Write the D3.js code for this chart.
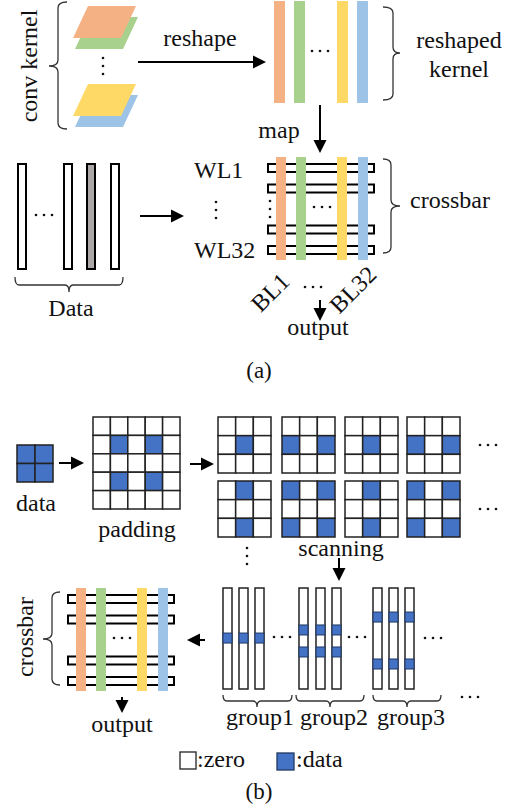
<!DOCTYPE html>
<html><head><meta charset="utf-8">
<script src="https://cdn.jsdelivr.net/npm/d3@7"></script>
<style>body{margin:0;background:#fff}svg{display:block}
text{font-family:"Liberation Serif","Tinos","Times New Roman","Nimbus Roman","DejaVu Serif",serif;}</style>
</head><body>
<script>
// ---------- data ----------
const kernelColors = ["#F4B183", "#A9D18E", "#FFD966", "#9DC3E6"];
const dataBlue = "#4472C4";
const dataGray = "#ABA7A7";
const dataColumnFilled = [0, 0, 1, 0];           // (a) data columns, 1 = gray
const crossbarWireRows = [0, 1, 3, 4];           // wire rows drawn (row 2 = dots)
const paddingCells = [[1,1],[1,3],[3,1],[3,3]];  // 5x5 padded map, [row,col]
const scanPatterns = [
  [[1,1]], [[1,0],[1,2]], [[1,1]], [[1,0],[1,2]],
  [[0,1],[2,1]], [[0,0],[0,2],[2,0],[2,2]], [[0,1],[2,1]], [[0,0],[0,2],[2,0],[2,2]]
];
const groupLabels = ["group1", "group2", "group3"];
const groupBlocks = [[0.446], [0.366, 0.584], [0.238, 0.703]]; // relative block positions in columns
const wlLabels = ["WL1", "WL32"];
const blLabels = ["BL1", "BL32"];

// ---------- setup ----------
const W = 513, H = 810;
const svg = d3.select("body").append("svg").attr("width", W).attr("height", H);
const FS = 24;

function txt(x, y, s, anchor = "middle", rot = 0, fs = FS) {
  const t = svg.append("text").style("font-size", fs + "px")
    .attr("fill", "#111").attr("text-anchor", anchor).text(s);
  if (rot) t.attr("transform", `translate(${x},${y}) rotate(${rot})`);
  else t.attr("x", x).attr("y", y);
  return t;
}
function arrow(x1, y1, x2, y2, L = 13, hw = 6.5) {
  const dx = x2 - x1, dy = y2 - y1, len = Math.hypot(dx, dy);
  const ux = dx / len, uy = dy / len;
  const bx = x2 - ux * L, by = y2 - uy * L;
  svg.append("line").attr("x1", x1).attr("y1", y1).attr("x2", bx + ux).attr("y2", by + uy)
    .attr("stroke", "#000").attr("stroke-width", 2);
  svg.append("path").attr("d",
    `M${x2},${y2} L${bx - uy * hw},${by + ux * hw} L${bx + uy * hw},${by - ux * hw} Z`)
    .attr("fill", "#000");
}
function vbrace(xl, y1, y2, ym, dir, h = 9, t = 9, r = 6) {
  const hx = xl - dir * h;
  const d = `M${hx},${y1} Q${xl},${y1} ${xl},${y1 + r} L${xl},${ym - r} Q${xl},${ym} ${xl + dir * t},${ym}`
    + ` Q${xl},${ym} ${xl},${ym + r} L${xl},${y2 - r} Q${xl},${y2} ${hx},${y2}`;
  svg.append("path").attr("d", d).attr("fill", "none").attr("stroke", "#333").attr("stroke-width", 1.3);
}
function hbrace(x1, x2, xm, yl, h = 7, t = 7, r = 4) {
  const d = `M${x1},${yl - h} Q${x1},${yl} ${x1 + r},${yl} L${xm - r},${yl} Q${xm},${yl} ${xm},${yl + t}`
    + ` Q${xm},${yl} ${xm + r},${yl} L${x2 - r},${yl} Q${x2},${yl} ${x2},${yl - h}`;
  svg.append("path").attr("d", d).attr("fill", "none").attr("stroke", "#333").attr("stroke-width", 1.3);
}
function hdots(cx, cy, sp = 8) {
  [-1, 0, 1].forEach(k => svg.append("circle").attr("cx", cx + k * sp).attr("cy", cy).attr("r", 1.3).attr("fill", "#111"));
}
function vdots(cx, cy, sp = 8) {
  [-1, 0, 1].forEach(k => svg.append("circle").attr("cx", cx).attr("cy", cy + k * sp).attr("r", 1.3).attr("fill", "#111"));
}

// ---------- (a) conv kernel layers ----------
function layer(ox, oy, color) {
  svg.append("path").attr("d", `M${88 + ox},${6 + oy} L${136 + ox},${6 + oy} L${121 + ox},${38 + oy} L${73 + ox},${38 + oy} Z`)
    .attr("fill", color);
}
layer(2, 11, kernelColors[1]);
layer(0, 0, kernelColors[0]);
layer(2, 89, kernelColors[3]);
layer(0, 78, kernelColors[2]);
vdots(103, 66);
vbrace(58, 2, 129, 66, -1);
txt(37, 66, "conv kernel", "middle", -90);

arrow(138, 62, 266, 62);
txt(200, 46, "reshape");

// reshaped kernel bars
const topBarX = d3.scaleOrdinal().domain(d3.range(4)).range([274, 294, 337, 357]);
kernelColors.forEach((c, i) => svg.append("rect").attr("x", topBarX(i)).attr("y", 1).attr("width", 11).attr("height", 102).attr("fill", c));
hdots(320, 51);
vbrace(393, 7, 100, 53, 1, 10, 7);
txt(459, 48, "reshaped");
txt(459, 77, "kernel");

arrow(320, 105, 320, 153);
txt(279, 138, "map");

// data columns
const dataColX = d3.scaleOrdinal().domain(d3.range(4)).range([18, 64, 87, 111]);
dataColumnFilled.forEach((f, i) => svg.append("rect").attr("x", dataColX(i)).attr("y", 164).attr("width", 8).attr("height", 105)
  .attr("fill", f ? dataGray : "#fff").attr("stroke", "#000").attr("stroke-width", 2));
hdots(44, 215);
hbrace(15, 123, 69, 285, 8, 7);
txt(71, 316, "Data");
arrow(140, 216, 184, 216);

// crossbar
function crossbar(x0, y0, leftDots) {
  const wireY = d3.scaleLinear().domain([0, 4]).range([y0 + 11, y0 + 93]);
  crossbarWireRows.forEach(r => svg.append("rect").attr("x", x0).attr("y", wireY(r) - 4)
    .attr("width", 106).attr("height", 8).attr("fill", "#fff").attr("stroke", "#000").attr("stroke-width", 2));
  const barX = d3.scaleOrdinal().domain(d3.range(4)).range([x0 + 8, x0 + 28, x0 + 69, x0 + 90]);
  kernelColors.forEach((c, i) => svg.append("rect").attr("x", barX(i)).attr("y", y0).attr("width", 10).attr("height", 103).attr("fill", c));
  hdots(x0 + 54, y0 + 50);
  if (leftDots) vdots(x0 + 2, y0 + 52);
}
crossbar(268, 157, true);
txt(194, 178, wlLabels[0], "start");
txt(194, 258, wlLabels[1], "start");
vdots(216, 210);
vbrace(391, 159, 253, 206, 1, 8, 9);
txt(410, 208, "crossbar", "start");
txt(291, 283, blLabels[0], "end", -45);
txt(378, 276, blLabels[1], "end", -45);
hdots(313, 287);
arrow(320, 300, 320, 321);
txt(318, 335, "output");
txt(259, 378, "(a)", "middle", 0, 23);

// ---------- (b) ----------
function grid(x, y, w, h, n, cells) {
  const xs = d3.scaleBand().domain(d3.range(n)).range([x, x + w]);
  const ys = d3.scaleBand().domain(d3.range(n)).range([y, y + h]);
  const set = new Set(cells.map(c => c[0] * n + c[1]));
  const g = svg.append("g");
  d3.range(n * n).forEach(k => {
    const r = Math.floor(k / n), c = k % n;
    g.append("rect").attr("x", xs(c)).attr("y", ys(r)).attr("width", xs.bandwidth()).attr("height", ys.bandwidth())
      .attr("fill", set.has(k) ? dataBlue : "#fff").attr("stroke", "#222").attr("stroke-width", 1.5);
  });
}
grid(17, 445, 36, 37, 2, [[0,0],[0,1],[1,0],[1,1]]);
txt(36, 511, "data");
arrow(59, 463, 84, 463);
grid(93, 417, 87, 92, 5, paddingCells);
txt(137, 537, "padding");
arrow(190, 464, 214, 464);

const scanX = d3.scaleOrdinal().domain(d3.range(4)).range([218, 282, 345, 407]);
const scanY = [417, 481];
scanPatterns.forEach((p, i) => grid(scanX(i % 4), scanY[Math.floor(i / 4)], 53, 56, 3, p));
hdots(488, 445);
hdots(488, 509);
vdots(247, 556);
txt(341, 556, "scanning");
arrow(339, 558, 339, 581);

// groups of columns
const colTop = 588, colH = 101;
const colY = d3.scaleLinear().domain([0, 1]).range([colTop, colTop + colH]);
const groupColX = [[223, 239, 255], [299, 316, 332], [373, 389, 405]];
groupColX.forEach((xs, gi) => {
  xs.forEach(x => {
    svg.append("rect").attr("x", x).attr("y", colTop).attr("width", 9).attr("height", colH)
      .attr("fill", "#fff").attr("stroke", "#222").attr("stroke-width", 1.5);
    groupBlocks[gi].forEach(b => svg.append("rect").attr("x", x).attr("y", colY(b)).attr("width", 9).attr("height", 10)
      .attr("fill", dataBlue).attr("stroke", "#1F3864").attr("stroke-width", 1));
  });
});
hdots(282, 637);
hdots(357, 637);
hdots(433, 638);
hdots(470, 697);
const braceSpans = [[223, 292, 257], [296, 364, 330], [373, 441, 407]];
braceSpans.forEach(s => hbrace(s[0], s[1], s[2], 701, 6, 6));
const groupCx = [260, 334, 411];
groupLabels.forEach((g, i) => txt(groupCx[i], 725, g));

arrow(205, 640, 187, 640);
crossbar(68, 588, false);
vbrace(52, 592, 685, 639, -1, 8, 9);
txt(33, 637, "crossbar", "middle", -90);
arrow(122, 697, 122, 713);
txt(122, 732, "output");

// legend
svg.append("rect").attr("x", 180).attr("y", 752).attr("width", 16).attr("height", 17).attr("fill", "#fff").attr("stroke", "#222").attr("stroke-width", 1.3);
txt(197, 767, ":zero", "start");
svg.append("rect").attr("x", 277).attr("y", 753).attr("width", 17).attr("height", 17).attr("fill", dataBlue).attr("stroke", "#1F3864").attr("stroke-width", 1.3);
txt(296, 767, ":data", "start");
txt(259, 799, "(b)", "middle", 0, 23);
</script>
</body></html>
